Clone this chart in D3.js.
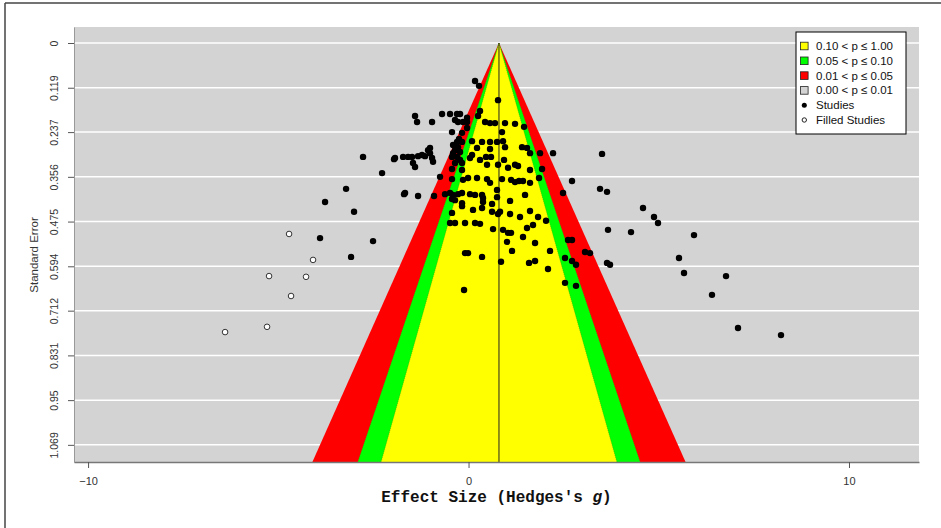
<!DOCTYPE html>
<html><head><meta charset="utf-8">
<script src="https://cdn.jsdelivr.net/npm/d3@7"></script>
<style>body{margin:0;background:#fff}</style>
</head><body><svg id="c" width="941" height="528"></svg>
<script>
const yTicks = [0, 0.119, 0.237, 0.356, 0.475, 0.594, 0.712, 0.831, 0.95, 1.069];
const yTickLabels = ["0","0.119","0.237","0.356","0.475","0.594","0.712","0.831","0.95","1.069"];
const xTicks = [-10, 0, 10];
const meanEffect = 0.80;
const contourLabels = ["0.10 < p \u2264 1.00","0.05 < p \u2264 0.10","0.01 < p \u2264 0.05","0.00 < p \u2264 0.01"];
const contourColors = ["#ffff00","#00ff00","#ff0000","#d3d3d3"];
// half-width of each contour (effect-size units per unit of SE)
const contourSlopes = [2.78, 3.33, 4.40];
const pointLabels = ["Studies","Filled Studies"];

// observed studies: [Hedges's g, standard error]
const studies = [
[0.171,0.101],[0.276,0.114],[0.775,0.152],
[-1.406,0.194],[-1.353,0.210],[-0.959,0.210],[-0.696,0.189],[-0.486,0.189],[-0.302,0.189],[-0.223,0.189],
[-0.355,0.205],[-0.276,0.210],[-0.145,0.210],[-0.039,0.199],[-0.039,0.210],[0.250,0.194],[0.302,0.181],
[0.434,0.210],[0.565,0.213],[0.696,0.213],[0.959,0.213],[1.222,0.215],[1.459,0.223],[-0.039,0.226],
[-0.434,0.237],[-0.171,0.239],[0.880,0.237],[-0.250,0.255],[-0.302,0.263],[-0.171,0.263],[0.092,0.261],
[0.355,0.263],[0.565,0.263],[0.749,0.263],[0.907,0.261],[0.959,0.277],[-1.012,0.279],[-1.064,0.285],
[-0.407,0.271],[-0.276,0.277],[-0.355,0.285],[-0.223,0.290],[0.223,0.279],[0.565,0.282],[1.406,0.277],
[1.537,0.279],[1.616,0.293],[1.879,0.293],[2.221,0.293],[3.509,0.295],
[-1.932,0.306],[-1.721,0.303],[-1.590,0.303],[-1.485,0.303],[-1.459,0.319],[-1.406,0.330],[-1.222,0.298],
[-1.143,0.301],[-1.012,0.293],[-0.959,0.306],[-0.933,0.316],[-2.273,0.346],[-2.773,0.303],[-1.958,0.309],
[-1.327,0.301],[-0.407,0.293],[-0.434,0.303],[-0.302,0.303],[-0.223,0.311],[-0.171,0.319],[-0.355,0.319],
[-0.434,0.335],[-0.171,0.338],[0.039,0.306],[0.092,0.298],[0.302,0.311],[0.460,0.303],[0.591,0.303],
[0.486,0.324],[0.775,0.324],[0.933,0.311],[1.038,0.332],[1.222,0.324],[1.301,0.327],[1.616,0.338],[1.932,0.335],
[-0.749,0.356],[-0.434,0.362],[-0.145,0.364],[-0.013,0.359],[0.223,0.359],[0.486,0.362],[0.565,0.372],
[0.880,0.362],[1.117,0.364],[1.222,0.370],[1.327,0.367],[1.432,0.367],[1.616,0.372],[1.853,0.359],[2.720,0.367],
[-1.695,0.402],[-1.669,0.399],[-1.327,0.407],[-0.907,0.407],[-0.618,0.402],[-0.486,0.399],[-0.407,0.404],
[-0.276,0.402],[-0.171,0.399],[-0.434,0.415],[-0.355,0.418],[0.039,0.402],[0.171,0.404],[0.355,0.404],
[0.381,0.412],[0.749,0.391],[0.749,0.410],[1.485,0.404],[2.484,0.399],[-0.171,0.426],[-0.171,0.434],
[0.381,0.423],[0.618,0.428],[0.618,0.449],[0.118,0.444],[0.355,0.439],[0.828,0.449],[0.775,0.455],
[1.091,0.420],[1.091,0.455],[1.353,0.463],[1.616,0.447],[1.827,0.463],[-0.434,0.452],[-0.486,0.479],
[-0.355,0.479],[-0.092,0.479],[0.171,0.479],[0.302,0.481],[0.644,0.495],[0.907,0.497],[1.038,0.505],
[1.117,0.505],[1.012,0.529],[1.432,0.516],[1.537,0.492],[1.695,0.484],[2.037,0.473],[1.748,0.532],
[-0.092,0.559],[-0.013,0.559],[0.355,0.569],[0.854,0.582],[1.143,0.553],[1.590,0.585],[1.748,0.580],
[2.142,0.553],[2.089,0.601],[2.536,0.572],[2.615,0.524],[2.720,0.524],[2.720,0.580],[2.825,0.590],
[3.062,0.556],[3.193,0.559],[2.536,0.638],[2.825,0.646],[-0.118,0.657],
[-3.219,0.388],[-3.771,0.423],[-3.009,0.449],[-3.903,0.519],[-2.510,0.527],[-3.088,0.569],
[3.456,0.388],[3.640,0.396],[4.586,0.439],[4.875,0.463],[4.980,0.479],[3.666,0.497],[4.271,0.503],
[5.926,0.511],[3.640,0.585],[3.719,0.590],[5.532,0.572],[5.664,0.612],[6.768,0.620],[6.399,0.670],
[7.083,0.758],[8.213,0.777]
];
// imputed (trim-and-fill) studies: [Hedges's g, standard error]
const filledStudies = [
[-4.717,0.508],[-4.087,0.577],[-5.243,0.620],[-4.271,0.622],[-4.665,0.673],[-6.399,0.769],[-5.296,0.755]
];

const svg = d3.select("#c");
const font = "'Liberation Sans', Arial, sans-serif";
const x = d3.scaleLinear().domain([-10.37, 11.84]).range([74, 919]);
const y = d3.scaleLinear().domain([-0.0426, 1.1146]).range([27, 462]);
const [x0, x1] = x.range(), [y0, y1] = y.range();
const seMax = y.domain()[1];

// outer frame (left and top edges)
svg.append("line").attr("x1",5).attr("x2",5).attr("y1",3).attr("y2",528).attr("stroke","#444").attr("stroke-width",1.5);
svg.append("line").attr("x1",5).attr("x2",941).attr("y1",3).attr("y2",3).attr("stroke","#444").attr("stroke-width",1.5);

// plot background
svg.append("rect").attr("x",x0).attr("y",y0).attr("width",x1-x0).attr("height",y1-y0).attr("fill",contourColors[3]);

// gridlines
svg.append("g").selectAll("line").data(yTicks).join("line")
  .attr("x1",x0).attr("x2",x1).attr("y1",d=>y(d)).attr("y2",d=>y(d))
  .attr("stroke","#fff").attr("stroke-width",1.5);

// contour funnel regions (widest first)
const funnel = svg.append("g");
[2,1,0].forEach(i=>{
  const s = contourSlopes[i];
  const pts = [[x(meanEffect),y(0)],[x(meanEffect - s*seMax),y(seMax)],[x(meanEffect + s*seMax),y(seMax)]];
  funnel.append("path").attr("d", d3.line()(pts)+"Z").attr("fill",contourColors[i]);
});
// dotted contour borders
[0,1].forEach(i=>{
  const s = contourSlopes[i];
  [-1,1].forEach(sg=>{
    funnel.append("line")
      .attr("x1",x(meanEffect)).attr("y1",y(0))
      .attr("x2",x(meanEffect + sg*s*seMax)).attr("y2",y(seMax))
      .attr("stroke","#556b00").attr("stroke-width",0.6).attr("stroke-dasharray","1,1").attr("opacity",0.6);
  });
});

// mean line
svg.append("line").attr("x1",x(meanEffect)).attr("x2",x(meanEffect)).attr("y1",y(0)).attr("y2",y1)
  .attr("stroke","#222").attr("stroke-width",1);

// axes
const yAxis = svg.append("g").attr("transform",`translate(${x0},0)`)
  .call(d3.axisLeft(y).tickValues(yTicks).tickFormat((d,i)=>yTickLabels[i]).tickSize(6).tickSizeOuter(0));
yAxis.select(".domain").attr("stroke","#999");
yAxis.selectAll(".tick line").attr("stroke","#555");
yAxis.selectAll(".tick text").attr("transform","rotate(-90)").attr("x",0).attr("y",-16).attr("dy",0)
  .attr("text-anchor","middle").attr("font-family",font).attr("font-size",10.5).attr("fill","#333");

const xAxis = svg.append("g").attr("transform",`translate(0,${y1})`)
  .call(d3.axisBottom(x).tickValues(xTicks).tickFormat(d3.format("d")).tickSize(6).tickSizeOuter(0));
xAxis.select(".domain").attr("stroke","#777").attr("stroke-width",1.5);
xAxis.selectAll(".tick line").attr("stroke","#555");
xAxis.selectAll(".tick text").attr("y",15).attr("font-family",font).attr("font-size",11).attr("fill","#333");

// axis titles
const xt = svg.append("text").attr("x",(x0+x1)/2).attr("y",502).attr("text-anchor","middle")
  .attr("font-family","'Liberation Mono','Courier New',monospace").attr("font-weight","bold").attr("font-size",16).attr("fill","#111");
xt.append("tspan").text("Effect Size (Hedges's ");
xt.append("tspan").attr("font-style","italic").text("g");
xt.append("tspan").text(")");

svg.append("text").attr("transform","translate(38,255) rotate(-90)").attr("text-anchor","middle")
  .attr("font-family",font).attr("font-size",11.5).attr("fill","#333").text("Standard Error");

// points
svg.append("g").selectAll("circle").data(studies).join("circle")
  .attr("cx",d=>x(d[0])).attr("cy",d=>y(d[1])).attr("r",3.2).attr("fill","#000");
svg.append("g").selectAll("circle").data(filledStudies).join("circle")
  .attr("cx",d=>x(d[0])).attr("cy",d=>y(d[1])).attr("r",2.8).attr("fill","#fff").attr("stroke","#333").attr("stroke-width",1);

// legend
const lg = svg.append("g");
lg.append("rect").attr("x",796).attr("y",32).attr("width",110).attr("height",102).attr("fill","#fff").attr("stroke","#000");
const rowY = i => 46 + i*14.8;
contourLabels.forEach((t,i)=>{
  lg.append("rect").attr("x",800.5).attr("y",rowY(i)-3.8).attr("width",7.6).attr("height",7.6)
    .attr("fill",contourColors[i]).attr("stroke","#222").attr("stroke-width",0.8);
  lg.append("text").attr("x",816).attr("y",rowY(i)).attr("dy","0.35em").attr("font-family",font).attr("font-size",11.5).attr("fill","#111").text(t);
});
pointLabels.forEach((t,j)=>{
  const i = 4+j;
  if(j===0) lg.append("circle").attr("cx",804.3).attr("cy",rowY(i)).attr("r",2.5).attr("fill","#000");
  else lg.append("circle").attr("cx",804.3).attr("cy",rowY(i)).attr("r",2.2).attr("fill","#fff").attr("stroke","#222");
  lg.append("text").attr("x",816).attr("y",rowY(i)).attr("dy","0.35em").attr("font-family",font).attr("font-size",11.5).attr("fill","#111").text(t);
});
</script>
</body></html>
